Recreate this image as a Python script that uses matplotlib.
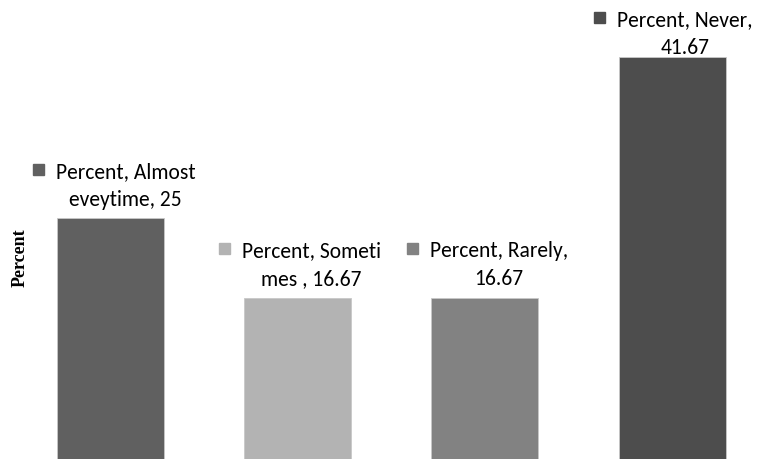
import matplotlib
matplotlib.use("Agg")
import matplotlib.pyplot as plt

categories = ["Almost eveytime", "Sometimes", "Rarely", "Never"]
values = [25, 16.67, 16.67, 41.67]
label_line1 = ["Percent, Almost", "Percent, Someti", "Percent, Rarely,", "Percent, Never,"]
label_line2 = ["eveytime, 25", "mes , 16.67", "16.67", "41.67"]
colors = ["#606060", "#b3b3b3", "#828282", "#4d4d4d"]

# label placement (pixels): horizontal shift and baseline gap above bar top
dx = [15, 14, 14, 13]
gap = [13, 14, 14, 4]

fig = plt.figure(figsize=(7.59, 4.60), dpi=100)
ax = fig.add_axes([0, 0, 1, 1])
x = list(range(len(categories)))
ax.bar(x, values, width=0.572, color=colors, edgecolor="#c8c8c8", linewidth=0.6)
ax.set_xlim(-0.590, 3.464)
ax.set_ylim(0, 47.67)
ax.axis("off")

fig.text(20.5 / 759, 1 - 258 / 460, "Percent", rotation=90, ha="center", va="center",
         family="Liberation Serif", fontweight="bold", fontsize=13)

font = dict(family=["Carlito", "Lato", "DejaVu Sans"], fontsize=15.5, color="#000000")
fig.canvas.draw()
r = fig.canvas.get_renderer()
for i, (xi, v, c) in enumerate(zip(x, values, colors)):
    t1 = ax.annotate(label_line1[i], (xi, v), xytext=(dx[i], gap[i] + 28),
                     textcoords="offset pixels", ha="center", va="baseline", **font)
    ax.annotate(label_line2[i], (xi, v), xytext=(dx[i], gap[i]),
                textcoords="offset pixels", ha="center", va="baseline", **font)
    fig.canvas.draw()
    bb = t1.get_window_extent(r)
    base_px = ax.transData.transform((xi, v))[1] + gap[i] + 28
    size = 11
    right = bb.x0 - 12
    cy = base_px + 7.5
    fig.patches.append(plt.Rectangle(((right - size) / 759, (cy - size / 2) / 460),
                                     size / 759, size / 460,
                                     transform=fig.transFigure, color=c, figure=fig))

fig.savefig("out.png", dpi=100)
